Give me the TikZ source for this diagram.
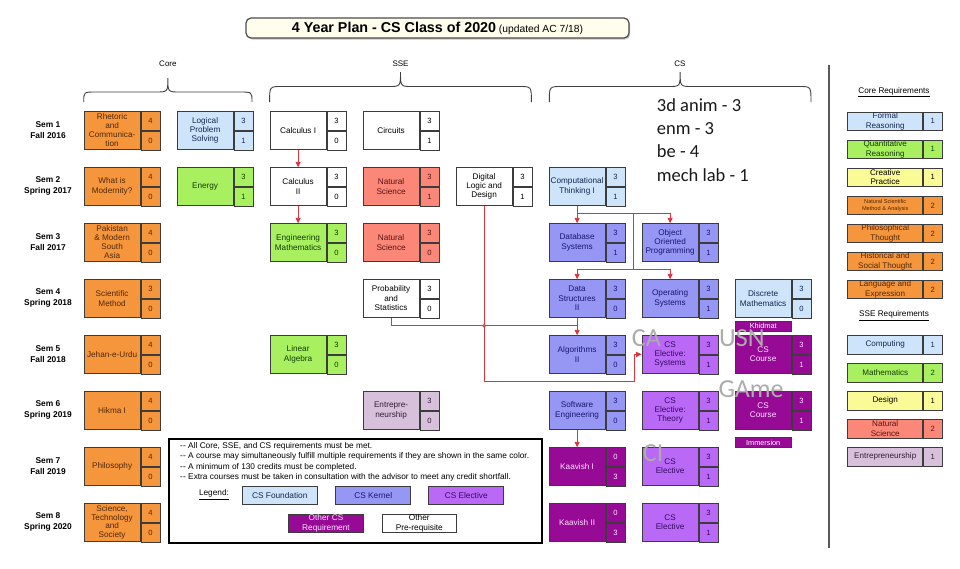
\documentclass[tikz,border=0pt]{standalone}
\usepackage{fontspec}
\setmainfont{Liberation Sans}
\newfontfamily\calib{Carlito}
\usetikzlibrary{arrows.meta,shadows}
\definecolor{bordc}{RGB}{60,60,60}
\definecolor{corec}{RGB}{245,150,60}
\definecolor{coret}{RGB}{80,40,10}
\definecolor{foundc}{RGB}{205,228,250}
\definecolor{foundt}{RGB}{20,40,80}
\definecolor{mathc}{RGB}{168,240,95}
\definecolor{matht}{RGB}{20,60,10}
\definecolor{scic}{RGB}{250,135,120}
\definecolor{scit}{RGB}{90,20,20}
\definecolor{kernc}{RGB}{150,150,245}
\definecolor{kernt}{RGB}{25,25,110}
\definecolor{elecc}{RGB}{185,105,245}
\definecolor{elect}{RGB}{55,10,100}
\definecolor{otherc}{RGB}{150,10,150}
\definecolor{othert}{RGB}{255,225,255}
\definecolor{entc}{RGB}{215,192,218}
\definecolor{entt}{RGB}{50,30,60}
\definecolor{desc}{RGB}{250,250,150}
\definecolor{redc}{RGB}{220,50,60}
\definecolor{titf}{RGB}{255,253,235}
\definecolor{ovc}{RGB}{25,25,25}
\definecolor{grayc}{RGB}{172,172,172}
\newcommand\dd{\mbox{-}\kern0.4pt\mbox{-}}
\newcommand\crs[7]{%
  \node[box,#4] (#1) at (#2,#3) {#5};
  \node[crd,#4,font=\fontsize{7.6}{8}\selectfont] (#1a) at (#1.north east) {#6};
  \node[crd,#4,font=\fontsize{7.6}{8}\selectfont] (#1b) at (#1a.south west) {#7};
}
\newcommand\req[5]{%
  \node[rbox,#3] (#1) at (847.3,#2) {#4};
  \node[rcrd,#3,font=\fontsize{7.6}{8}\selectfont] (#1c) at (#1.north east) {#5};
}
\newcommand\brc[4]{%
  \pgfmathsetmacro\bm{(#1+#2)/2}
  \draw[bracel] (#1,102) .. controls (#1,#3) .. (#1+12,#3) -- (\bm-12,#3)
    .. controls (\bm,#3) .. (\bm,#4) .. controls (\bm,#3) .. (\bm+12,#3)
    -- (#2-12,#3) .. controls (#2,#3) .. (#2,102);
}
\tikzset{
  box/.style={draw=bordc, line width=0.8pt, inner sep=0pt, minimum width=56pt,
    minimum height=37.4pt, anchor=north west, align=center,
    font=\fontsize{8.2}{9.4}\selectfont},
  crd/.style={draw=bordc, line width=0.8pt, inner sep=0pt, minimum width=19pt,
    minimum height=18.7pt, anchor=north west},
  rbox/.style={draw=bordc, line width=0.8pt, inner sep=0pt, minimum width=75pt,
    minimum height=18.5pt, anchor=north west, align=center,
    font=\fontsize{8.1}{9.4}\selectfont},
  rcrd/.style={draw=bordc, line width=0.8pt, inner sep=0pt, minimum width=18.4pt,
    minimum height=18.5pt, anchor=north west},
  legb/.style={draw=bordc, line width=0.8pt, inner sep=0pt, minimum width=74.8pt,
    minimum height=18.5pt, anchor=north west, align=center,
    font=\fontsize{8.3}{9.6}\selectfont},
  strip/.style={fill=otherc, draw=bordc, line width=0.5pt, inner sep=0pt,
    minimum width=56.5pt, minimum height=9.7pt, anchor=north west, text=white,
    font=\fontsize{7.3}{8}\selectfont},
  tcore/.style={fill=corec, text=coret},
  tfound/.style={fill=foundc, text=foundt},
  tmath/.style={fill=mathc, text=matht},
  tsci/.style={fill=scic, text=scit},
  tpre/.style={fill=white, text=black},
  tkern/.style={fill=kernc, text=kernt},
  telec/.style={fill=elecc, text=elect},
  tother/.style={fill=otherc, text=othert},
  tent/.style={fill=entc, text=entt},
  tdes/.style={fill=desc, text=black},
  tight/.style={font=\fontsize{8.2}{8.9}\selectfont},
  sem/.style={align=center, font=\bfseries\fontsize{8.4}{10.6}\selectfont, inner sep=0pt},
  arr/.style={draw=redc, line width=0.9pt, -{Triangle[length=5.5pt,width=5pt]}},
  ln/.style={draw=redc, line width=0.9pt},
  bracel/.style={draw=black!75, line width=0.9pt},
  lbl/.style={font=\fontsize{8}{9}\selectfont, inner sep=0pt},
  legt/.style={anchor=west, inner sep=0pt, font=\fontsize{8.3}{9}\selectfont},
  ovl/.style={anchor=west, inner sep=0pt, text=ovc, font=\calib\fontsize{18.5}{20}\selectfont},
  gry/.style={anchor=west, inner sep=0pt, text=grayc, font=\calib\fontsize{26}{28}\selectfont},
}
\begin{document}
\begin{tikzpicture}[x=1pt,y=-1pt]
\useasboundingbox[fill=white] (0,0) rectangle (960,568);

% title
\node[draw=black!70, fill=titf, rounded corners=5pt, line width=1.2pt,
  minimum width=383pt, minimum height=20pt, inner sep=0pt,
  drop shadow={shadow xshift=1.2pt, shadow yshift=-1.5pt, fill=black!45}] (title) at (437.5,28) {};
\node[inner sep=0pt] (titletext) at (title.center) {{\bfseries\fontsize{14.3}{16}\selectfont 4 Year Plan - CS Class of 2020} {\fontsize{10.3}{12}\selectfont (updated AC 7/18)}};

% braces and group labels
\brc{83.7}{252}{92}{78}
\brc{269.6}{531.4}{86.5}{72}
\brc{549.3}{811}{86.5}{72}
\node[lbl] (lcore) at (167.9,64) {Core};
\node[lbl] (lsse) at (400.5,64) {SSE};
\node[lbl] (lcs) at (680,64) {CS};

% semester labels
\node[sem] (s1) at (48,130) {Sem 1\\Fall 2016};
\node[sem] (s2) at (48,186) {Sem 2\\Spring 2017};
\node[sem] (s3) at (48,242) {Sem 3\\Fall 2017};
\node[sem] (s4) at (48,298) {Sem 4\\Spring 2018};
\node[sem] (s5) at (48,354) {Sem 5\\Fall 2018};
\node[sem] (s6) at (48,410) {Sem 6\\Spring 2019};
\node[sem] (s7) at (48,466) {Sem 7\\Fall 2019};
\node[sem] (s8) at (48,522) {Sem 8\\Spring 2020};

% row 1
\crs{rhet}{83.7}{111.3}{tcore,tight}{Rhetoric\\and\\Communica-\\tion}{4}{0}
\crs{lps}{176.7}{111.3}{tfound}{Logical\\Problem\\Solving}{3}{1}
\crs{calc1}{269.7}{111.3}{tpre}{Calculus I}{3}{0}
\crs{circ}{362.7}{111.3}{tpre}{Circuits}{3}{1}
% row 2
\crs{wim}{83.7}{167.3}{tcore}{What is\\Modernity?}{4}{0}
\crs{energy}{176.7}{167.3}{tmath}{Energy}{3}{1}
\crs{calc2}{269.7}{167.3}{tpre}{Calculus\\II}{3}{0}
\crs{ns1}{362.7}{167.3}{tsci}{Natural\\Science}{3}{1}
\crs{dl}{455.7}{167.3}{tpre}{Digital\\Logic and\\Design}{3}{1}
\crs{ct}{548.7}{167.3}{tfound}{Computational\\Thinking I}{3}{1}
% row 3
\crs{pak}{83.7}{223.3}{tcore,tight}{Pakistan\\\& Modern\\South\\Asia}{4}{0}
\crs{engm}{269.7}{223.3}{tmath}{Engineering\\Mathematics}{3}{0}
\crs{ns2}{362.7}{223.3}{tsci}{Natural\\Science}{3}{0}
\crs{db}{548.7}{223.3}{tkern}{Database\\Systems}{3}{1}
\crs{oop}{641.7}{223.3}{tkern}{Object\\Oriented\\Programming}{3}{1}
% row 4
\crs{sm}{83.7}{279.3}{tcore}{Scientific\\Method}{3}{0}
\crs{prob}{362.7}{279.3}{tpre}{Probability\\and\\Statistics}{3}{0}
\crs{ds}{548.7}{279.3}{tkern}{Data\\Structures\\II}{3}{0}
\crs{os}{641.7}{279.3}{tkern}{Operating\\Systems}{3}{1}
\crs{dm}{734.7}{279.3}{tfound}{Discrete\\Mathematics}{3}{0}
% row 5
\crs{jeu}{83.7}{335.3}{tcore}{Jehan-e-Urdu}{4}{0}
\crs{la}{269.7}{335.3}{tmath}{Linear\\Algebra}{3}{0}
\crs{alg}{548.7}{335.3}{tkern}{Algorithms\\II}{3}{0}
\crs{cses}{641.7}{335.3}{telec}{CS\\Elective:\\Systems}{3}{1}
\crs{csc1}{734.7}{335.3}{tother}{CS\\Course}{3}{1}
\node[strip] (khid) at (734.7,321) {Khidmat};
% row 6
\crs{hik}{83.7}{391.3}{tcore}{Hikma I}{4}{0}
\crs{ent}{362.7}{391.3}{tent}{Entrepre-\\neurship}{3}{0}
\crs{se}{548.7}{391.3}{tkern}{Software\\Engineering}{3}{0}
\crs{cset}{641.7}{391.3}{telec}{CS\\Elective:\\Theory}{3}{1}
\crs{csc2}{734.7}{391.3}{tother}{CS\\Course}{3}{1}
\node[strip] (imm) at (734.7,437.3) {Immersion};
% row 7
\crs{phil}{83.7}{447.3}{tcore}{Philosophy}{4}{0}
\crs{k1}{548.7}{447.3}{tother}{Kaavish I}{0}{3}
\crs{cse1}{641.7}{447.3}{telec}{CS\\Elective}{3}{1}
% row 8
\crs{sts}{83.7}{503.3}{tcore,tight}{Science,\\Technology\\and\\Society}{4}{0}
\crs{k2}{548.7}{503.3}{tother}{Kaavish II}{0}{3}
\crs{cse2}{641.7}{503.3}{telec}{CS\\Elective}{3}{1}

% connectors
\coordinate (ja) at (633.3,213.3);
\coordinate (jb) at (633.3,269.3);
\coordinate (jc) at (576.7,325.7);
\coordinate (jd) at (634,381.7);
\draw[arr] (calc1.south) -- (calc2.north);
\draw[arr] (calc2.south) -- (engm.north);
\draw[arr] (ct.south) -- (db.north);
\draw[arr] (ct.south |- ja) -| (oop.north);
\draw[ln] (ja) -- (jb);
\draw[arr] (jb) -| (ds.north);
\draw[arr] (jb) -| (os.north);
\draw[arr] (ds.south) -- (alg.north);
\draw[ln] (prob.south) |- (jc);
\draw[arr] (dl.south) |- (jd) |- (cses.west);
\draw[ln, fill=white] (dl.south |- jc) circle (1.3pt);
\draw[arr] (se.south) -- (k1.north);

% legend
\node[draw=black, line width=1.8pt, minimum width=373.3pt, minimum height=103.4pt,
  inner sep=0pt, anchor=north west] (legend) at (167.7,438.3) {};
\node[legt] (lt1) at (179.8,446.3) {\dd{} All Core, SSE, and CS requirements must be met.};
\node[legt] (lt2) at (179.8,456.6) {\dd{} A course may simultaneously fulfill multiple requirements if they are shown in the same color.};
\node[legt] (lt3) at (179.8,466.9) {\dd{} A minimum of 130 credits must be completed.};
\node[legt] (lt4) at (179.8,477) {\dd{} Extra courses must be taken in consultation with the advisor to meet any credit shortfall.};
\node[inner sep=0pt, font=\fontsize{8.3}{9}\selectfont] (legl) at (214,494.5) {\underline{Legend:}};
\node[legb,tfound] (lgf) at (242,485.7) {CS Foundation};
\node[legb,tkern] (lgk) at (335.4,485.7) {CS Kernel};
\node[legb,telec] (lge) at (428.4,485.7) {CS Elective};
\node[legb,tother] (lgo) at (288.2,513.5) {Other CS\\Requirement};
\node[legb,tpre] (lgp) at (381.5,513.5) {Other\\Pre-requisite};

% separator
\draw[draw=black!65, line width=1.5pt] (829,65) -- (829,548);

% requirements panel
\node[inner sep=0pt, font=\fontsize{8.2}{9}\selectfont] (coreq) at (894,92) {\underline{Core Requirements}};
\req{rfr}{111.7}{tfound}{Formal\\Reasoning}{1}
\req{rqr}{139.7}{tmath}{Quantitative\\Reasoning}{1}
\req{rcp}{167.7}{tdes}{Creative\\Practice}{1}
\req{rns}{195.7}{tcore,font=\fontsize{5.6}{6.8}\selectfont}{Natural Scientific\\Method \& Analysis}{2}
\req{rpt}{223.7}{tcore}{Philosophical\\Thought}{2}
\req{rhs}{251.7}{tcore}{Historical and\\Social Thought}{2}
\req{rle}{279.7}{tcore}{Language and\\Expression}{2}
\node[inner sep=0pt, font=\fontsize{8.2}{9}\selectfont] (ssereq) at (894,315.7) {\underline{SSE Requirements}};
\req{rco}{335}{tfound}{Computing}{1}
\req{rma}{363}{tmath}{Mathematics}{2}
\req{rde}{391}{tdes}{Design}{1}
\req{rnsc}{419}{tsci}{Natural\\Science}{2}
\req{ren}{447}{tent}{Entrepreneurship}{1}

% handwritten-style notes
\node[ovl] (n1) at (656.7,105) {3d anim - 3};
\node[ovl] (n2) at (656.7,128.3) {enm - 3};
\node[ovl] (n3) at (656.7,150.7) {be - 4};
\node[ovl] (n4) at (656.7,175) {mech lab - 1};
\node[gry] (gca) at (631.7,338) {CA};
\node[gry] (gusn) at (719,338) {USN};
\node[gry] (game) at (718.3,389.5) {GAme};
\node[gry] (gci) at (642.7,453.5) {CI};
\end{tikzpicture}
\end{document}
